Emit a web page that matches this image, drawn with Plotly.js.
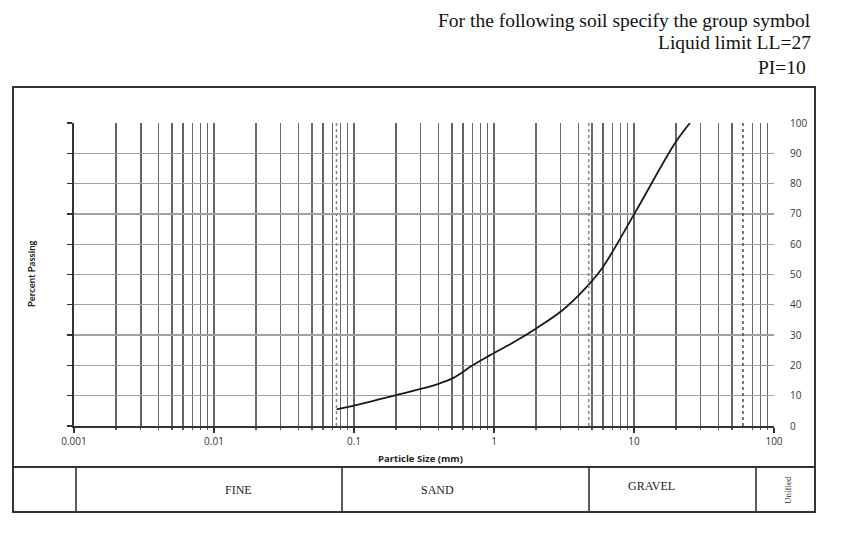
<!DOCTYPE html>
<html>
<head>
<meta charset="utf-8">
<script src="https://cdn.plot.ly/plotly-3.0.1.min.js"></script>
<style>html,body{margin:0;padding:0;background:#fff;}#chart{width:866px;height:546px;}</style>
</head>
<body>
<div id="chart"></div>
<script>
// ---- data ----
const particleSize   = [0.075, 0.1165, 0.2, 0.31, 0.41, 0.51, 0.59, 0.69, 0.94, 1.4, 2.0, 3.1, 4.4, 5.9, 10.2, 19.6, 25.1];
const percentPassing = [5.5,   7.5,    10.2, 12.4, 14.1, 15.8, 17.6, 19.8, 23.4, 27.8, 32.2, 38.3, 45.0, 52.0, 70.5, 93.3, 100];
const decadeTicks  = [0.001, 0.01, 0.1, 1, 10, 100];
const decadeLabels = ['0.001', '0.01', '0.1', '1', '10', '100'];
const minorMultipliers = [2, 3, 4, 5, 6, 7, 8, 9];
const sieveBoundaries = [0.075, 4.75, 60];
const yTicks = [0, 10, 20, 30, 40, 50, 60, 70, 80, 90, 100];
const titleLines = ['For the following soil specify the group symbol', 'Liquid limit LL=27', 'PI=10'];
const classLabels = ['FINE', 'SAND', 'GRAVEL'];

// minor grid positions (axis grid, excluding the line replaced by the dotted boundary)
const minorGrid = [];
decadeTicks.slice(0, -1).forEach(d => minorMultipliers.forEach(m => {
  const v = +(d * m).toPrecision(3);
  if (!sieveBoundaries.includes(v)) minorGrid.push(v);
}));

// plot-area geometry helpers (pixels -> paper)
const L = 74, R = 774, T = 123, B = 426;
const px = x => (x - L) / (R - L);
const py = y => (B - y) / (B - T);

const traces = [];
sieveBoundaries.forEach((s, i) => {
  traces.push({
    x: [s, s], y: [0, 100], xaxis: 'x', yaxis: 'y2', mode: 'lines',
    line: {color: i === 2 ? '#555' : '#8a8a8a', width: 1.6, dash: 'dot'},
    hoverinfo: 'skip', showlegend: false
  });
});
traces.push({
  x: particleSize, y: percentPassing, xaxis: 'x', yaxis: 'y', mode: 'lines',
  line: {color: '#1a1a1a', width: 1.8, shape: 'spline', smoothing: 1},
  showlegend: false
});

const serif = 'Liberation Serif, Times New Roman, serif';
const sans = 'Open Sans, Lato, sans-serif';

const annotations = [];
titleLines.forEach((t, i) => {
  annotations.push({
    text: t, xref: 'paper', yref: 'paper', x: px(i === 2 ? 808 : 813), y: py([20, 43, 67][i]),
    xanchor: 'right', yanchor: 'middle', showarrow: false,
    font: {family: serif, size: 19.5, color: '#111'}
  });
});
annotations.push({
  text: '<b>Percent Passing</b>', xref: 'paper', yref: 'paper', x: px(31), y: py(274),
  textangle: -90, showarrow: false, xanchor: 'center', yanchor: 'middle',
  font: {family: 'Lato, sans-serif', size: 9.5, color: '#222'}
});
annotations.push({
  text: '<b>Particle Size (mm)</b>', xref: 'paper', yref: 'paper', x: px(420), y: py(458),
  showarrow: false, xanchor: 'center', yanchor: 'middle',
  font: {family: 'Open Sans, sans-serif', size: 9.5, color: '#222'}
});
[[238, 490], [437, 490], [651, 486]].forEach((p, i) => {
  annotations.push({
    text: classLabels[i], xref: 'paper', yref: 'paper', x: px(p[0]), y: py(p[1]),
    showarrow: false, xanchor: 'center', yanchor: 'middle',
    font: {family: serif, size: 12, color: '#222'}
  });
});
annotations.push({
  text: 'Unified', xref: 'paper', yref: 'paper', x: px(788), y: py(490), textangle: -90,
  showarrow: false, xanchor: 'center', yanchor: 'middle',
  font: {family: serif, size: 9, color: '#222'}
});

const frame = {color: '#333', width: 1.6};
const shapes = [
  {type: 'rect', xref: 'paper', yref: 'paper', x0: px(13), x1: px(815), y0: py(512), y1: py(87), line: {color: '#333', width: 2}},
  {type: 'line', xref: 'paper', yref: 'paper', x0: px(13), x1: px(815), y0: py(467), y1: py(467), line: {color: '#333', width: 2.2}},
  {type: 'line', xref: 'paper', yref: 'paper', x0: px(76), x1: px(76), y0: py(467), y1: py(512), line: frame},
  {type: 'line', xref: 'paper', yref: 'paper', x0: px(342), x1: px(342), y0: py(467), y1: py(512), line: frame},
  {type: 'line', xref: 'paper', yref: 'paper', x0: px(589), x1: px(589), y0: py(467), y1: py(512), line: frame},
  {type: 'line', xref: 'paper', yref: 'paper', x0: px(756), x1: px(756), y0: py(467), y1: py(512), line: frame}
];

const layout = {
  width: 866, height: 546,
  margin: {l: L, r: 866 - R, t: T, b: 546 - B, pad: 0},
  paper_bgcolor: '#fff', plot_bgcolor: '#fff',
  showlegend: false,
  xaxis: {
    type: 'log', range: [-3, 2], tickmode: 'array', tickvals: decadeTicks, ticktext: decadeLabels,
    showgrid: true, gridcolor: '#666', gridwidth: 1.4,
    ticks: 'outside', ticklen: 5, tickwidth: 1.3, tickcolor: '#333',
    showline: true, linecolor: '#333', linewidth: 1.5,
    tickfont: {family: sans, size: 10, color: '#333'},
    minor: {tickmode: 'array', tickvals: minorGrid, showgrid: true, gridcolor: '#666', gridwidth: 1.4,
            ticks: 'outside', ticklen: 2, tickcolor: '#555'},
    zeroline: false, fixedrange: true
  },
  yaxis: {
    range: [0, 100], side: 'right', tickmode: 'array', tickvals: yTicks,
    showgrid: true, gridcolor: '#a0a0a0', gridwidth: 1.4,
    ticks: 'outside', ticklen: 13, tickcolor: 'rgba(0,0,0,0)',
    tickfont: {family: sans, size: 10, color: '#333'},
    zeroline: false, showline: false, fixedrange: true
  },
  yaxis2: {
    range: [0, 100], overlaying: 'y', side: 'left', tickmode: 'array', tickvals: yTicks,
    showticklabels: false, showgrid: false, ticks: 'outside', ticklen: 5, tickwidth: 1.3, tickcolor: '#333',
    showline: true, linecolor: '#333', linewidth: 1.6, zeroline: false, fixedrange: true
  },
  annotations: annotations,
  shapes: shapes
};

Plotly.newPlot('chart', traces, layout, {displayModeBar: false, staticPlot: true});
</script>
</body>
</html>
